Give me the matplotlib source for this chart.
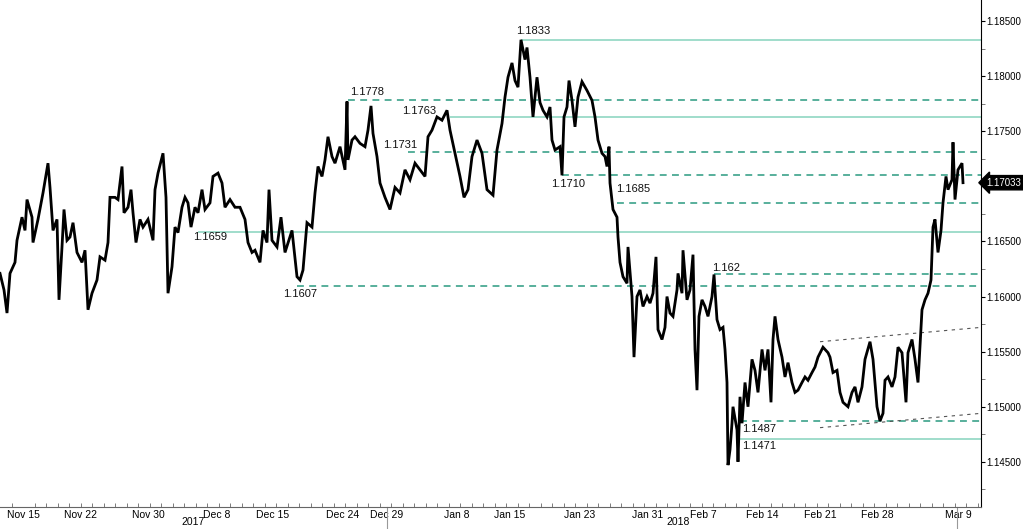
import matplotlib
matplotlib.use("Agg")
import matplotlib.pyplot as plt
import numpy as np

# EURUSD, 2-hour bars (weekends removed)
bars = [0, 4, 7, 10, 15, 17, 22, 25, 27, 32, 33, 38, 43, 48, 50, 53, 57, 59, 62, 64,
        67, 70, 73, 77, 82, 85, 88, 92, 97, 100, 105, 108, 110, 115, 118, 122, 124, 128, 131, 133,
        136, 140, 143, 148, 153, 155, 158, 163, 166, 168, 172, 175, 178, 182, 185, 188, 191, 195, 198, 202,
        205, 210, 213, 218, 222, 225, 230, 235, 240, 245, 248, 252, 255, 260, 263, 267, 269, 272, 277, 281,
        285, 292, 297, 300, 303, 307, 312, 315, 318, 322, 325, 328, 332, 335, 340, 345, 347, 348, 352, 355,
        360, 365, 368, 371, 373, 377, 380, 385, 390, 395, 400, 405, 410, 415, 420, 425, 428, 432, 437, 442,
        447, 450, 455, 460, 464, 468, 472, 477, 482, 487, 493, 497, 502, 505, 508, 512, 515, 518, 521, 525,
        527, 530, 533, 537, 540, 543, 547, 550, 552, 555, 560, 562, 564, 567, 569, 572, 575, 578, 582, 587,
        592, 595, 598, 602, 605, 607, 609, 610, 613, 617, 618, 620, 623, 627, 628, 632, 634, 637, 640, 643,
        647, 650, 653, 656, 658, 662, 665, 667, 670, 673, 677, 678, 682, 683, 687, 690, 693, 695, 697, 699,
        702, 705, 708, 712, 714, 717, 720, 723, 725, 727, 728, 730, 732, 733, 737, 738, 740, 742, 745, 748,
        752, 755, 758, 762, 765, 768, 771, 773, 775, 778, 782, 785, 788, 792, 795, 798, 802, 805, 808, 812,
        815, 818, 823, 828, 830, 833, 837, 840, 843, 848, 852, 855, 858, 862, 865, 870, 873, 877, 880, 883,
        885, 888, 892, 895, 898, 902, 906, 908, 912, 915, 918, 922, 925, 928, 931, 933, 935, 938, 941, 943,
        946, 948, 952, 953, 955, 958, 962, 963]
price = [1.1621, 1.1606, 1.1585, 1.1621, 1.1631, 1.1651, 1.1672, 1.1660, 1.1688, 1.1672, 1.1649, 1.1670, 1.1694, 1.1721, 1.1699, 1.1660, 1.1670, 1.1597, 1.1645, 1.1679,
         1.1651, 1.1654, 1.1667, 1.1640, 1.1631, 1.1642, 1.1588, 1.1603, 1.1615, 1.1636, 1.1633, 1.1649, 1.1690, 1.1690, 1.1688, 1.1718, 1.1676, 1.1681, 1.1697, 1.1676,
         1.1649, 1.1670, 1.1663, 1.1670, 1.1651, 1.1697, 1.1712, 1.1730, 1.1690, 1.1603, 1.1627, 1.1663, 1.1658, 1.1681, 1.1690, 1.1685, 1.1663, 1.1681, 1.1676, 1.1697,
         1.1679, 1.1685, 1.1709, 1.1712, 1.1703, 1.1681, 1.1688, 1.1681, 1.1681, 1.1670, 1.1649, 1.1640, 1.1642, 1.1631, 1.1660, 1.1649, 1.1697, 1.1651, 1.1645, 1.1672,
         1.1640, 1.1660, 1.1618, 1.1615, 1.1624, 1.1667, 1.1663, 1.1694, 1.1718, 1.1709, 1.1724, 1.1745, 1.1727, 1.1721, 1.1736, 1.1715, 1.1777, 1.1724, 1.1742, 1.1745,
         1.1739, 1.1736, 1.1751, 1.1773, 1.1748, 1.1727, 1.1703, 1.1690, 1.1679, 1.1699, 1.1694, 1.1715, 1.1706, 1.1721, 1.1715, 1.1709, 1.1745, 1.1751, 1.1763, 1.1760,
         1.1769, 1.1751, 1.1730, 1.1709, 1.1690, 1.1697, 1.1727, 1.1742, 1.1730, 1.1697, 1.1692, 1.1733, 1.1757, 1.1781, 1.1799, 1.1812, 1.1796, 1.1790, 1.1833, 1.1815,
         1.1826, 1.1799, 1.1763, 1.1799, 1.1776, 1.1769, 1.1763, 1.1772, 1.1742, 1.1733, 1.1736, 1.1710, 1.1763, 1.1772, 1.1796, 1.1778, 1.1754, 1.1781, 1.1795, 1.1787,
         1.1778, 1.1763, 1.1742, 1.1730, 1.1727, 1.1718, 1.1736, 1.1703, 1.1679, 1.1672, 1.1654, 1.1631, 1.1618, 1.1612, 1.1645, 1.1600, 1.1545, 1.1600, 1.1606, 1.1591,
         1.1600, 1.1594, 1.1603, 1.1636, 1.1570, 1.1561, 1.1572, 1.1600, 1.1585, 1.1582, 1.1606, 1.1621, 1.1603, 1.1642, 1.1597, 1.1606, 1.1638, 1.1552, 1.1515, 1.1582,
         1.1597, 1.1591, 1.1582, 1.1600, 1.1620, 1.1579, 1.1570, 1.1572, 1.1552, 1.1522, 1.1447, 1.1461, 1.1485, 1.1500, 1.1479, 1.1450, 1.1509, 1.1485, 1.1522, 1.1500,
         1.1543, 1.1533, 1.1513, 1.1552, 1.1533, 1.1552, 1.1504, 1.1561, 1.1582, 1.1561, 1.1545, 1.1527, 1.1540, 1.1522, 1.1513, 1.1515, 1.1522, 1.1527, 1.1524, 1.1531,
         1.1536, 1.1545, 1.1554, 1.1549, 1.1545, 1.1531, 1.1533, 1.1513, 1.1504, 1.1500, 1.1513, 1.1518, 1.1504, 1.1518, 1.1543, 1.1559, 1.1543, 1.1500, 1.1487, 1.1494,
         1.1524, 1.1527, 1.1518, 1.1527, 1.1554, 1.1549, 1.1504, 1.1549, 1.1561, 1.1543, 1.1522, 1.1588, 1.1597, 1.1603, 1.1615, 1.1663, 1.1670, 1.1640, 1.1660, 1.1685,
         1.1709, 1.1697, 1.1706, 1.1740, 1.1688, 1.1715, 1.1721, 1.17033]

# support / resistance levels
level_vals = [1.1833, 1.1778, 1.1763, 1.1731, 1.1710, 1.1685, 1.1659, 1.1620, 1.1610, 1.1487, 1.1471]
level_text = ["1.1833", "1.1778", "1.1763", "1.1731", "1.1710", "1.1685", "1.1659", "1.162", "1.1607", "1.1487", "1.1471"]
level_start = [521, 348, 450, 408, 562, 617, 198, 714, 297, 740, 737]
level_dashed = [False, True, False, True, True, True, False, True, True, True, False]
label_bar = [516, 350, 402, 383, 551, 616, 193, 712, 283, 742, 742]
label_dy = [6, 6, 4, 5, -6, 10, -4, 5, -6, -6, -5]

# channel (bar, price) end points
chan_bars = [820, 981]
chan_upper = [1.1559, 1.1572]
chan_lower = [1.1481, 1.1494]

tick_bars = [23, 80, 148, 217, 273, 343, 387, 457, 510, 580, 648, 703, 762, 820, 877, 958]
tick_text = ["Nov 15", "Nov 22", "Nov 30", "Dec 8", "Dec 15", "Dec 24", "Dec 29", "Jan 8",
             "Jan 15", "Jan 23", "Jan 31", "Feb 7", "Feb 14", "Feb 21", "Feb 28", "Mar 9"]
year_bars = [193, 678]
year_text = ["2017", "2018"]
sep_bars = [387, 957]
price_ticks = [1.145, 1.150, 1.155, 1.160, 1.165, 1.170, 1.175, 1.180, 1.185]
last_price = 1.17033

plt.rcParams["font.family"] = ["Liberation Sans", "DejaVu Sans"]

fig = plt.figure(figsize=(10.23, 5.29), dpi=100)
ax = fig.add_axes([0, 22 / 529, 981 / 1023, 507 / 529])
ax.set_xlim(0, 981)
ax.set_ylim(1.14090, 1.18691)

solid_c = "#86d3bd"
dash_c = "#2a9a80"

for v, x0, d in zip(level_vals, level_start, level_dashed):
    if d:
        ax.hlines(v, x0, 981, colors=dash_c, linestyles=(0, (4.5, 3.5)), lw=1.1)
    else:
        ax.hlines(v, x0, 981, colors=solid_c, lw=1.1)

ax.plot(chan_bars, chan_upper, color="#555555", lw=0.8, ls=(0, (3, 4)))
ax.plot(chan_bars, chan_lower, color="#555555", lw=0.8, ls=(0, (3, 4)))

ax.plot(bars, price, color="black", lw=2.0, solid_joinstyle="miter")

for t, xb, v, dy in zip(level_text, label_bar, level_vals, label_dy):
    ax.annotate(t, (xb, v), xytext=(0, dy), textcoords="offset points",
                fontsize=8, ha="left", va="center", color="#111111")

for s in ["top", "left"]:
    ax.spines[s].set_visible(False)
ax.spines["right"].set_color("black")
ax.spines["bottom"].set_color("#666666")

# the last-price tag hides the 1.17000 label
ax.yaxis.tick_right()
ax.set_yticks(price_ticks)
ax.set_yticklabels(["" if abs(v - 1.17) < 1e-9 else "%.5f" % v for v in price_ticks])
ax.set_yticks(np.arange(1.1425, 1.1851, 0.005), minor=True)
ax.tick_params(axis="y", which="major", length=3, width=0.8, labelsize=7, pad=1)
ax.tick_params(axis="y", which="minor", length=3, width=0.6, color="#666666")

ax.set_xticks(tick_bars)
ax.set_xticklabels(tick_text)
ax.set_xticks(np.arange(11.5, 981, 11.5), minor=True)
ax.tick_params(axis="x", which="major", length=0, labelsize=7.5, pad=2)
ax.tick_params(axis="x", which="minor", direction="in", length=3, width=0.6, color="#666666")

xt = ax.get_xaxis_transform()
for xb, t in zip(year_bars, year_text):
    ax.text(xb, -0.03, t, transform=xt, ha="center", va="center", fontsize=7.5)
for xb in sep_bars:
    ax.plot([xb, xb], [-0.05, 0], transform=xt, color="#999999", lw=0.8, clip_on=False)

ax.annotate("%.5f" % last_price, xy=(1, last_price), xycoords=("axes fraction", "data"),
            xytext=(4, 0), textcoords="offset points", va="center", ha="left",
            fontsize=7, color="white",
            bbox=dict(boxstyle="larrow,pad=0.22", fc="black", ec="black"))

fig.savefig("out.png", dpi=100)
